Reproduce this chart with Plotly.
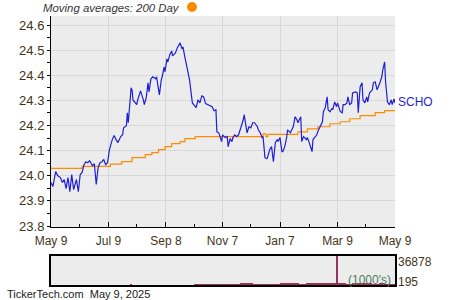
import plotly.graph_objects as go

# ---------------- data ----------------
price_dates = [
    "2024-05-09","2024-05-11","2024-05-14","2024-05-16","2024-05-19","2024-05-21","2024-05-23","2024-05-25",
    "2024-05-27","2024-05-29","2024-05-31","2024-06-02","2024-06-05","2024-06-07","2024-06-09","2024-06-11",
    "2024-06-13","2024-06-15","2024-06-17","2024-06-19","2024-06-22","2024-06-24","2024-06-26","2024-06-28",
    "2024-06-30","2024-07-02","2024-07-04","2024-07-06","2024-07-08","2024-07-10","2024-07-13","2024-07-15",
    "2024-07-17","2024-07-19","2024-07-22","2024-07-24","2024-07-25","2024-07-28","2024-07-29","2024-07-30",
    "2024-08-02","2024-08-03","2024-08-04","2024-08-06","2024-08-08","2024-08-09","2024-08-12","2024-08-15",
    "2024-08-16","2024-08-18","2024-08-20","2024-08-21","2024-08-23","2024-08-25","2024-08-28","2024-08-29",
    "2024-09-01","2024-09-03","2024-09-04","2024-09-06","2024-09-07","2024-09-09","2024-09-10","2024-09-12",
    "2024-09-14","2024-09-15","2024-09-18","2024-09-20","2024-09-21","2024-09-23","2024-09-25","2024-09-26",
    "2024-09-28","2024-09-30","2024-10-02","2024-10-03","2024-10-06","2024-10-08","2024-10-10","2024-10-12",
    "2024-10-14","2024-10-16","2024-10-18","2024-10-20","2024-10-23","2024-10-27","2024-10-29","2024-10-31",
    "2024-11-01","2024-11-03","2024-11-06","2024-11-07","2024-11-10","2024-11-12","2024-11-13","2024-11-15",
    "2024-11-17","2024-11-18","2024-11-20","2024-11-22","2024-11-24","2024-11-27","2024-11-29","2024-11-30",
    "2024-12-02","2024-12-03","2024-12-05","2024-12-07","2024-12-09","2024-12-11","2024-12-14","2024-12-15",
    "2024-12-17","2024-12-19","2024-12-20","2024-12-22","2024-12-24","2024-12-25","2024-12-27","2024-12-29",
    "2024-12-31","2025-01-02","2025-01-04","2025-01-05","2025-01-07","2025-01-09","2025-01-10","2025-01-12",
    "2025-01-14","2025-01-15","2025-01-18","2025-01-20","2025-01-21","2025-01-23","2025-01-25","2025-01-26",
    "2025-01-29","2025-01-30","2025-02-01","2025-02-04","2025-02-05","2025-02-07","2025-02-10","2025-02-11",
    "2025-02-13","2025-02-15","2025-02-16","2025-02-18","2025-02-21","2025-02-22","2025-02-24","2025-02-26",
    "2025-02-27","2025-03-01","2025-03-03","2025-03-04","2025-03-06","2025-03-08","2025-03-09","2025-03-12",
    "2025-03-14","2025-03-15","2025-03-17","2025-03-19","2025-03-20","2025-03-22","2025-03-24","2025-03-25",
    "2025-03-28","2025-03-30","2025-03-31","2025-04-02","2025-04-04","2025-04-05","2025-04-07","2025-04-09",
    "2025-04-10","2025-04-12","2025-04-15","2025-04-16","2025-04-18","2025-04-20","2025-04-21","2025-04-23",
    "2025-04-25","2025-04-26","2025-04-28","2025-04-29","2025-05-01","2025-05-03","2025-05-05","2025-05-06",
    "2025-05-08","2025-05-09",
]
price_values = [
    23.973,23.957,24.017,24.001,23.993,23.973,23.985,23.949,
    23.993,23.937,24.005,23.945,23.985,23.937,24.005,24.013,
    24.044,24.056,24.052,24.060,24.040,24.048,23.965,24.033,
    24.052,24.056,24.064,24.044,24.052,24.104,24.144,24.160,
    24.144,24.132,24.156,24.163,24.191,24.199,24.251,24.211,
    24.350,24.342,24.302,24.290,24.283,24.302,24.338,24.302,
    24.283,24.310,24.370,24.334,24.386,24.394,24.386,24.394,
    24.322,24.382,24.394,24.433,24.414,24.465,24.453,24.481,
    24.497,24.477,24.489,24.509,24.517,24.529,24.505,24.513,
    24.473,24.433,24.394,24.382,24.290,24.279,24.271,24.302,
    24.290,24.318,24.314,24.287,24.283,24.275,24.259,24.263,
    24.175,24.171,24.136,24.163,24.152,24.156,24.116,24.148,
    24.136,24.152,24.163,24.156,24.163,24.195,24.223,24.243,
    24.203,24.171,24.195,24.191,24.211,24.211,24.195,24.183,
    24.171,24.152,24.156,24.072,24.068,24.076,24.104,24.116,
    24.056,24.132,24.144,24.136,24.152,24.096,24.096,24.116,
    24.152,24.183,24.171,24.187,24.195,24.235,24.223,24.211,
    24.235,24.136,24.156,24.144,24.152,24.132,24.096,24.144,
    24.152,24.163,24.175,24.191,24.215,24.255,24.271,24.314,
    24.263,24.255,24.267,24.263,24.294,24.275,24.290,24.255,
    24.251,24.283,24.283,24.290,24.314,24.283,24.290,24.330,
    24.334,24.330,24.251,24.354,24.370,24.302,24.290,24.314,
    24.294,24.330,24.342,24.370,24.374,24.342,24.350,24.370,
    24.394,24.421,24.453,24.374,24.294,24.283,24.302,24.283,
    24.306,24.290,
]

ma_dates = [
    "2024-05-09","2024-06-11","2024-07-11","2024-07-23","2024-08-03","2024-08-17","2024-08-24",
    "2024-08-31","2024-09-07","2024-09-14","2024-09-23","2024-09-28","2024-10-09","2024-12-20",
    "2024-12-23","2024-12-25","2025-01-26","2025-02-05","2025-02-16","2025-03-01","2025-03-12",
    "2025-03-22","2025-04-02","2025-04-18","2025-04-28","2025-05-09",
]
ma_values = [
    24.029,24.037,24.046,24.056,24.072,24.084,24.092,
    24.104,24.116,24.128,24.136,24.148,24.156,24.167,
    24.156,24.165,24.175,24.187,24.195,24.207,24.215,
    24.227,24.239,24.251,24.259,24.262,
]

vol_dates = [
    "2024-08-02",
    "2024-10-11","2024-10-18","2024-10-25","2024-11-01","2024-11-08","2024-11-15","2024-11-22",
    "2024-11-29","2024-12-06","2024-12-13","2024-12-20","2024-12-27","2025-01-03","2025-01-10",
    "2025-01-17","2025-01-24","2025-01-31","2025-02-07","2025-02-14","2025-02-21","2025-02-28",
    "2025-03-07","2025-03-14","2025-03-21","2025-03-28","2025-04-04","2025-04-11","2025-04-18",
    "2025-04-25","2025-05-02","2025-05-09",
]
vol_values = [
    700,
    1000,1100,1000,1200,1000,1100,1000,
    1300,2000,1100,1200,600,1200,1500,
    1300,1600,1200,1400,1300,2000,1800,
    3000,1500,1200,1400,1600,1800,1200,
    1300,1200,1100,
]
spike_dates = ["2025-03-09"]
spike_values = [36878]

x_tick_vals = ["2024-05-09","2024-07-09","2024-09-08","2024-11-07","2025-01-07","2025-03-09","2025-05-09"]
x_tick_text = ["May 9","Jul 9","Sep 8","Nov 7","Jan 7","Mar 9","May 9"]
x_minor_vals = ["2024-06-08","2024-08-08","2024-10-08","2024-12-07","2025-02-07","2025-04-08"]

vol_max_label = "36878"
vol_min_label = "195"

# ---------------- figure ----------------
W, H = 450, 300
def px(x):
    return x / W
def py(y):
    return 1 - y / H

FONT = "Arial, Liberation Sans, sans-serif"
LBL = "#3f3418"
BLUE = "#1f1fd6"
ORANGE = "#ff8c00"

fig = go.Figure()
fig.add_trace(go.Scatter(x=ma_dates, y=ma_values, mode="lines", line=dict(color=ORANGE, width=1.2, shape="hv"),
                         xaxis="x", yaxis="y", hoverinfo="skip"))
fig.add_trace(go.Scatter(x=price_dates, y=price_values, mode="lines", line=dict(color=BLUE, width=1.2),
                         xaxis="x", yaxis="y"))
DAY = 86400000
fig.add_trace(go.Bar(x=vol_dates, y=vol_values, width=[2.5 * DAY] + [7 * DAY] * (len(vol_dates) - 1),
                     marker=dict(color="#9b3060", line=dict(width=0)), xaxis="x2", yaxis="y2"))
fig.add_trace(go.Bar(x=spike_dates, y=spike_values, width=[1.8 * DAY],
                     marker=dict(color="#9b3060", line=dict(width=0)), xaxis="x2", yaxis="y2"))

xdom = [px(51), px(395)]
xrange = ["2024-05-09", "2025-05-09"]

fig.update_layout(
    width=W, height=H, margin=dict(l=0, r=0, t=0, b=0, autoexpand=False),
    paper_bgcolor="white", plot_bgcolor="#ececec",
    showlegend=False, bargap=0, barmode="overlay",
    font=dict(family=FONT, color=LBL),
    xaxis=dict(domain=xdom, anchor="y", range=xrange, type="date", automargin=False,
               tickmode="array", tickvals=x_tick_vals, ticktext=x_tick_text,
               ticks="inside", ticklen=5, tickcolor="black", tickwidth=1,
               ticklabelstandoff=3,
               showline=True, linecolor="black", linewidth=1,
               showgrid=True, gridcolor="#d8d8d8", gridwidth=1, zeroline=False,
               tickfont=dict(size=12, color=LBL, family=FONT),
               minor=dict(tickmode="array", tickvals=x_minor_vals, ticks="inside", ticklen=3,
                          tickcolor="black", showgrid=False),
               fixedrange=True),
    yaxis=dict(domain=[py(227), py(16)], anchor="x", range=[23.796, 24.636], automargin=False,
               tickmode="linear", tick0=23.8, dtick=0.1, tickformat=".1f",
               ticks="outside", ticklen=3, tickcolor="black",
               showline=True, linecolor="black", linewidth=1,
               showgrid=True, gridcolor="#d8d8d8", gridwidth=1, zeroline=False,
               tickfont=dict(size=13, color=LBL, family=FONT),
               minor=dict(dtick=0.05, tick0=23.8, ticks="outside", ticklen=3, tickcolor="black", showgrid=False),
               fixedrange=True),
    xaxis2=dict(domain=xdom, anchor="y2", range=xrange, type="date", automargin=False,
                showticklabels=False, ticks="", showgrid=False, zeroline=False,
                showline=True, linecolor="black", linewidth=1.5, mirror=True, fixedrange=True),
    yaxis2=dict(domain=[py(285), py(256)], anchor="x2", range=[0, 36878], automargin=False,
                showticklabels=False, ticks="", showgrid=False, zeroline=False,
                showline=True, linecolor="black", linewidth=1.5, mirror=True, fixedrange=True),
)

ann = []
ann.append(dict(text="<i>Moving averages: 200 Day</i>", x=px(181), y=py(8), xref="paper", yref="paper",
                xanchor="right", yanchor="middle", showarrow=False, borderpad=0,
                font=dict(size=11.4, color="#333333", family=FONT)))
ann.append(dict(text="SCHO", x=px(396), y=py(102), xref="paper", yref="paper",
                xanchor="left", yanchor="middle", showarrow=False,
                font=dict(size=12, color=BLUE, family=FONT)))
ann.append(dict(text=vol_max_label, x=px(396), y=py(262), xref="paper", yref="paper",
                xanchor="left", yanchor="middle", showarrow=False,
                font=dict(size=12, color=LBL, family=FONT)))
ann.append(dict(text=vol_min_label, x=px(396), y=py(282), xref="paper", yref="paper",
                xanchor="left", yanchor="middle", showarrow=False,
                font=dict(size=12, color=LBL, family=FONT)))
ann.append(dict(text="(1000's)", x=px(393), y=py(280), xref="paper", yref="paper",
                xanchor="right", yanchor="middle", showarrow=False,
                font=dict(size=12, color="#4f7d5e", family=FONT)))
ann.append(dict(text="TickerTech.com&nbsp;&nbsp;May 9, 2025", x=px(5), y=py(294), xref="paper", yref="paper",
                xanchor="left", yanchor="middle", showarrow=False,
                font=dict(size=11, color="#1a1a1a", family=FONT)))
fig.update_layout(annotations=ann)

fig.add_shape(type="circle", xref="paper", yref="paper", layer="above",
              x0=px(187), x1=px(197), y0=py(12), y1=py(2),
              fillcolor=ORANGE, line=dict(width=0))

fig.write_html("out.html", config={"displayModeBar": False})
